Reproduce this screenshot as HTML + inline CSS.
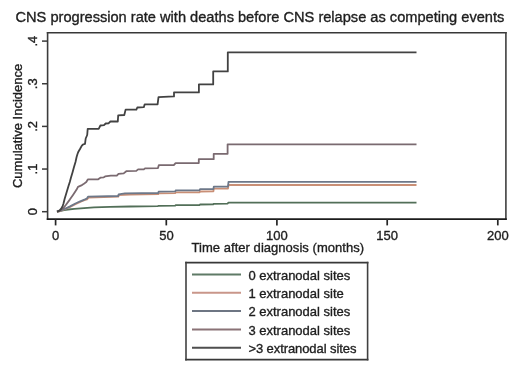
<!DOCTYPE html>
<html><head><meta charset="utf-8"><style>
html,body{margin:0;padding:0;background:#fff;width:520px;height:378px;overflow:hidden}
svg{display:block}
text{font-family:"Liberation Sans",sans-serif;fill:#1e1e1e;stroke:#1e1e1e;stroke-width:0.35px}
svg{will-change:transform}
</style></head><body>
<svg width="520" height="378" viewBox="0 0 520 378">
<rect width="520" height="378" fill="#fff"/>
<text x="15.5" y="21.6" font-size="14.62">CNS progression rate with deaths before CNS relapse as competing events</text>

<!-- plot box -->
<g fill="none" stroke-linecap="square">
<line x1="47.6" y1="32.8" x2="505.9" y2="32.8" stroke="#383838" stroke-width="1.6"/>
<line x1="505.9" y1="32.8" x2="505.9" y2="219.2" stroke="#404040" stroke-width="1.6"/>
<line x1="47.6" y1="32.8" x2="47.6" y2="219.2" stroke="#3c3c3c" stroke-width="1.6"/>
<line x1="47.6" y1="219.2" x2="505.9" y2="219.2" stroke="#1c1c1c" stroke-width="1.7"/>
</g>

<!-- ticks -->
<g stroke="#3a3a3a" stroke-width="1.5">
<line x1="42" y1="211.7" x2="48" y2="211.7"/>
<line x1="42" y1="169.05" x2="48" y2="169.05"/>
<line x1="42" y1="126.4" x2="48" y2="126.4"/>
<line x1="42" y1="83.75" x2="48" y2="83.75"/>
<line x1="42" y1="41.1" x2="48" y2="41.1"/>
</g>
<g stroke="#262626" stroke-width="1.7">
<line x1="55.6" y1="219" x2="55.6" y2="225.4"/>
<line x1="166.3" y1="219" x2="166.3" y2="225.4"/>
<line x1="276.9" y1="219" x2="276.9" y2="225.4"/>
<line x1="387.2" y1="219" x2="387.2" y2="225.4"/>
<line x1="497.8" y1="219" x2="497.8" y2="225.4"/>
</g>
<g font-size="13" text-anchor="middle">
<text transform="translate(37,211.7) rotate(-90)">0</text>
<text transform="translate(37,169.05) rotate(-90)">.1</text>
<text transform="translate(37,126.4) rotate(-90)">.2</text>
<text transform="translate(37,83.75) rotate(-90)">.3</text>
<text transform="translate(37,41.1) rotate(-90)">.4</text>
<text x="55.6" y="240.1">0</text>
<text x="166.6" y="240.1">50</text>
<text x="276.9" y="240.1">100</text>
<text x="387.2" y="240.1">150</text>
<text x="497.8" y="240.1">200</text>
<text x="277.8" y="252.1" textLength="172.6" lengthAdjust="spacing">Time after diagnosis (months)</text>
<text transform="translate(22,125.9) rotate(-90)">Cumulative Incidence</text>
</g>

<!-- curves -->
<g fill="none" stroke-width="1.8" stroke-linejoin="round">
<path stroke="#526f58" d="M57,211.7 L60,211.1 L64,210.2 L68,209.5 L74.4,208.9 L84,208.1 L94,207.4 L110,206.9 L130,206.5 L158,206.1 L158.5,205.8 L175.4,205.6 L175.6,205.2 L199.6,205.1 L200,204.5 L213.2,204.4 L213.6,203.8 L227.7,203.6 L228.3,202.7 L416.5,202.7"/>
<path stroke="#c98f76" d="M57,211.7 L59,211.3 L62.9,210 L69.6,207.2 L75.4,204.3 L80.2,202 L85,200 L87,199.3 L88.6,197.6 L118.3,196.7 L118.6,195.2 L130,194.6 L158.3,194.1 L158.6,193.3 L175.4,193.1 L175.6,192.4 L199.6,192.3 L200,191.5 L213.4,191.3 L213.8,188.6 L228,188.5 L228.5,185 L416.5,185"/>
<path stroke="#6d7889" d="M57,211.7 L59,211.2 L62.9,209.7 L69.6,206.6 L75.4,203.5 L80.2,201.3 L85,199.4 L86.9,198.5 L88,196.6 L118.3,196 L118.6,194.4 L125,193.4 L158.3,193 L158.6,191.6 L175.4,191.4 L175.6,190.4 L199.6,190.3 L200,189.2 L213.4,189.1 L213.8,186.6 L228,186.5 L228.5,181.8 L416.5,181.8"/>
<path stroke="#7a6a70" d="M57,211.7 L60,210.6 L63,208.6 L66,204.8 L69.8,199.6 L73,195 L76.6,189.6 L78,186.8 L81.4,185.4 L83.5,184.1 L86.3,182 L87.5,180 L88.3,179.3 L98.2,179.3 L100.4,177.7 L103.8,177.3 L105.1,176.4 L110.8,175.6 L116.8,175.6 L118.5,173.8 L123.7,173.4 L126.3,171.2 L136.3,170.9 L138.1,169.4 L143.8,169.4 L145,168.3 L158,168.1 L158.8,165.2 L173.8,165.2 L175.6,163.1 L198.8,163.1 L198.8,159.2 L213.7,159.2 L213.7,153.8 L227.6,153.8 L227.6,144.3 L416.5,144.3"/>
<path stroke="#424242" d="M57,211.7 L58.5,211.2 L60,210 L61,209 L62.5,206.5 L63.5,203.5 L64.6,199 L65.5,196 L67,191 L68.5,186 L69.8,182 L71,177.5 L72.5,172.4 L74,167 L75.5,162 L76.6,157 L77.5,154 L78.4,151.7 L80,149 L81.7,145.8 L83,144.5 L85,143.8 L85.7,138.5 L87.2,135 L87.7,128.9 L98.7,128.8 L100.4,125.5 L104,125.2 L105.7,123.5 L108.5,123.3 L110.4,121.5 L117.8,121.5 L118.2,115.3 L124.3,115 L125.6,109.6 L136.4,109.6 L137.3,107.5 L143.8,107.2 L144.7,104.4 L157.6,104.3 L158.5,97.1 L174,96.4 L174,92.4 L198.9,92.4 L198.9,84.4 L213.2,84.4 L213.2,71.4 L227.8,71.4 L227.8,52.3 L416.5,52.3"/>
</g>

<!-- legend -->
<g fill="none" stroke-linecap="square">
<line x1="186" y1="262.6" x2="367.6" y2="262.6" stroke="#383838" stroke-width="1.6"/>
<line x1="186" y1="359.6" x2="367.6" y2="359.6" stroke="#383838" stroke-width="1.6"/>
<line x1="186" y1="262.6" x2="186" y2="359.6" stroke="#404040" stroke-width="1.6"/>
<line x1="367.6" y1="262.6" x2="367.6" y2="359.6" stroke="#404040" stroke-width="1.6"/>
</g>
<g stroke-width="2">
<line x1="192" y1="274.4" x2="241" y2="274.4" stroke="#5f7a66"/>
<line x1="192" y1="292.8" x2="241" y2="292.8" stroke="#c9968a"/>
<line x1="192" y1="310.9" x2="241" y2="310.9" stroke="#6e7683"/>
<line x1="192" y1="329.5" x2="241" y2="329.5" stroke="#8a7276"/>
<line x1="192" y1="347.8" x2="241" y2="347.8" stroke="#4e4e4e"/>
</g>
<g font-size="13">
<text x="248.4" y="279.6">0 extranodal sites</text>
<text x="248.4" y="297.9">1 extranodal site</text>
<text x="248.4" y="316.2">2 extranodal sites</text>
<text x="248.4" y="334.5">3 extranodal sites</text>
<text x="248.4" y="352.8" textLength="108" lengthAdjust="spacing">&gt;3 extranodal sites</text>
</g>
</svg>
</body></html>
